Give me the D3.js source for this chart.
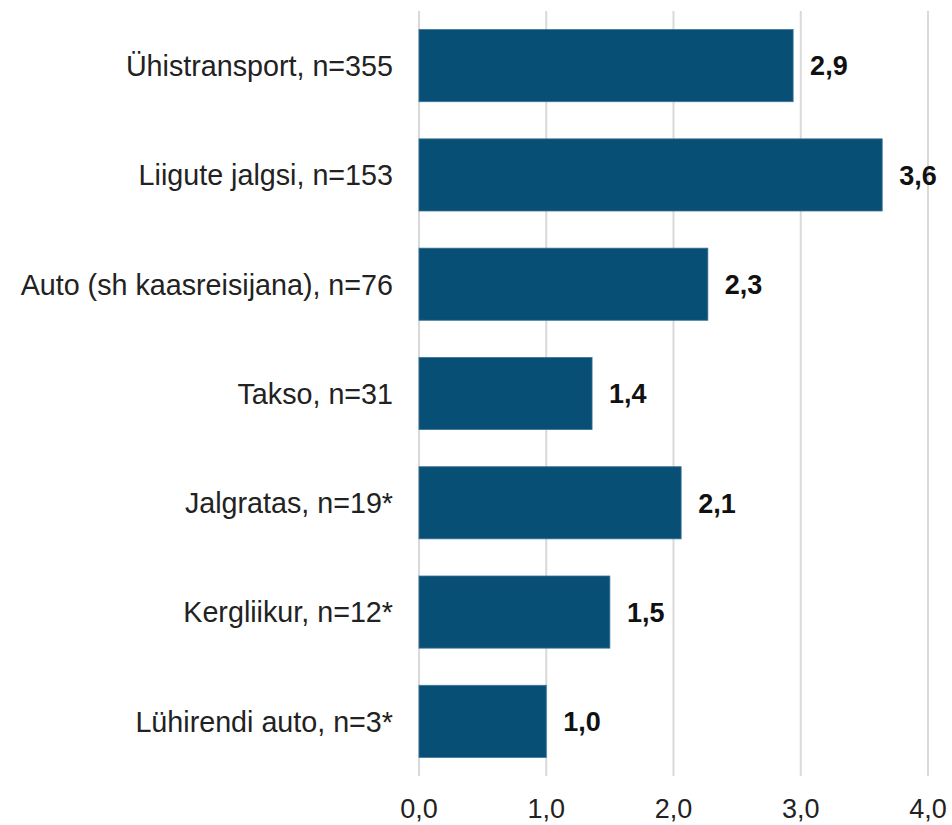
<!DOCTYPE html>
<html>
<head>
<meta charset="utf-8">
<script src="https://cdn.jsdelivr.net/npm/d3@7"></script>
<style>
  body { margin: 0; background: #fff; }
  text { font-family: "Liberation Sans", Arial, sans-serif; }
</style>
</head>
<body>
<div id="chart"></div>
<script>
// data
var categories = [
  "Ühistransport, n=355",
  "Liigute jalgsi, n=153",
  "Auto (sh kaasreisijana), n=76",
  "Takso, n=31",
  "Jalgratas, n=19*",
  "Kergliikur, n=12*",
  "Lühirendi auto, n=3*"
]
var values = [2.94, 3.64, 2.27, 1.36, 2.06, 1.50, 1.00]
var tickValues = [0, 1, 2, 3, 4]

var width = 952
var height = 825
var margin = {top: 11, right: 24, bottom: 49, left: 419}

var svg = d3.select("#chart").append("svg")
  .attr("width", width)
  .attr("height", height)

var xScale = d3.scaleLinear()
  .domain([0, 4])
  .range([margin.left, width - margin.right])

var yScale = d3.scaleBand()
  .domain(categories)
  .range([margin.top, height - margin.bottom])
  .paddingInner(0.34)
  .paddingOuter(0.17)

var fmt = function(v) { return d3.format(".1f")(v).replace(".", ",") }

// gridlines
svg.append("g").selectAll("line")
  .data(tickValues)
  .join("line")
  .attr("x1", d => xScale(d))
  .attr("x2", d => xScale(d))
  .attr("y1", margin.top)
  .attr("y2", height - margin.bottom)
  .attr("stroke", "#d9d9d9")
  .attr("stroke-width", 2)

// x tick labels
svg.append("g").selectAll("text")
  .data(tickValues)
  .join("text")
  .attr("x", d => xScale(d))
  .attr("y", 818)
  .attr("text-anchor", "middle")
  .attr("font-size", 27)
  .attr("fill", "#222")
  .text(d => fmt(d))

// bars
svg.append("g").selectAll("rect")
  .data(values)
  .join("rect")
  .attr("x", xScale(0))
  .attr("y", (d, i) => yScale(categories[i]))
  .attr("width", d => xScale(d) - xScale(0))
  .attr("height", yScale.bandwidth())
  .attr("fill", "#084f76")
  .attr("stroke", "#3b7397")
  .attr("stroke-width", 0.8)

// value labels
svg.append("g").selectAll("text")
  .data(values)
  .join("text")
  .attr("x", d => xScale(d) + 17)
  .attr("y", (d, i) => yScale(categories[i]) + yScale.bandwidth() / 2)
  .attr("dy", "0.36em")
  .attr("font-size", 27)
  .attr("font-weight", "bold")
  .attr("fill", "#111")
  .text(d => fmt(d))

// category labels
svg.append("g").selectAll("text")
  .data(categories)
  .join("text")
  .attr("x", 393)
  .attr("y", d => yScale(d) + yScale.bandwidth() / 2)
  .attr("dy", "0.36em")
  .attr("text-anchor", "end")
  .attr("font-size", 28.7)
  .attr("fill", "#222")
  .text(d => d)
</script>
</body>
</html>
